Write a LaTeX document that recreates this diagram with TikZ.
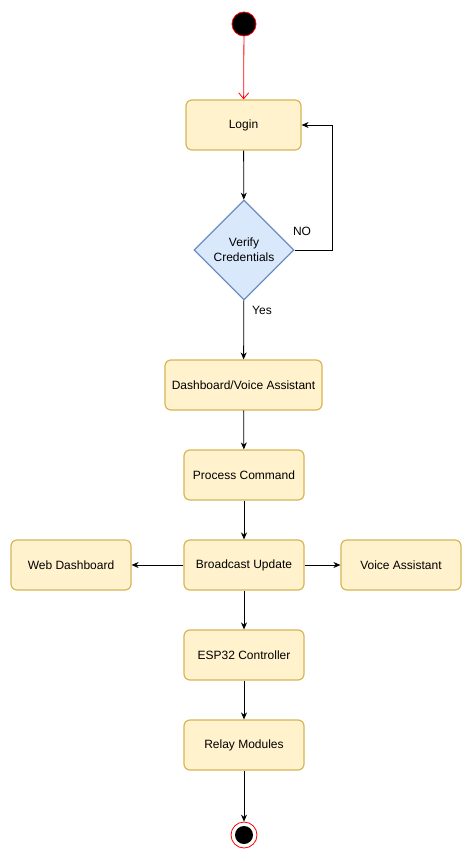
\documentclass[tikz,border=0pt]{standalone}
\usepackage{fontspec}
\setmainfont{Liberation Sans}
\usetikzlibrary{arrows.meta,shapes.geometric}

\definecolor{boxfill}{HTML}{FFF2CC}
\definecolor{boxline}{HTML}{D6B656}
\definecolor{decfill}{HTML}{DAE8FC}
\definecolor{decline}{HTML}{6C8EBF}

\tikzset{
    activity/.style = {draw = boxline, fill = boxfill, line width = 1.2pt, rounded corners = 6pt,
        minimum height = 50pt, inner sep = 0pt, font = \fontsize{12}{14}\selectfont},
    decision/.style = {diamond, draw = decline, fill = decfill, line width = 1.2pt, aspect = 1,
        minimum width = 100pt, minimum height = 100pt, inner sep = 0pt, align = center,
        font = \fontsize{12}{15}\selectfont},
    flow/.style = {draw, line width = 0.8pt, -{Stealth[length = 7pt, width = 6pt]}},
    lbl/.style = {font = \fontsize{12}{14}\selectfont}
}

\begin{document}
\begin{tikzpicture}[x = 1pt, y = -1pt]
            \useasboundingbox (0,0) rectangle (472,861);

            \node[circle, fill = black, draw = red, line width = 0.8pt, minimum size = 24pt, inner sep = 0pt] (start) at (244,24) {};

            \node[activity, minimum width = 115pt] (login) at (243.5,125) {Login};
            \node[decision] (verify) at (244,250) {Verify\\Credentials};
            \node[activity, minimum width = 157pt] (dash) at (243.5,385) {Dashboard/Voice Assistant};
            \node[activity, minimum width = 120pt] (process) at (244,475) {Process Command};
            \node[activity, minimum width = 120pt] (broadcast) at (244,565) {Broadcast Update};
            \node[activity, minimum width = 120pt] (web) at (71,565) {Web Dashboard};
            \node[activity, minimum width = 120pt] (voice) at (401,565) {Voice Assistant};
            \node[activity, minimum width = 120pt] (esp) at (244,655) {ESP32 Controller};
            \node[activity, minimum width = 120pt] (relay) at (244,745) {Relay Modules};

            \node[circle, draw = red, line width = 0.8pt, minimum size = 26pt, inner sep = 0pt] (stop) at (244,835) {};
            \fill (stop.center) circle (9pt);

            \draw[red, line width = 0.8pt, -{Straight Barb[length = 6pt, width = 10pt]}] (start) -- (login);
            \draw[flow] (login) -- (verify);
            \draw[flow] (verify.east) -- (332,250) -- (332,125) -- (login.east);
            \node[lbl] (no) at (302,231) {NO};
            \draw[flow] (verify) -- (dash);
            \node[lbl] (yes) at (262,310) {Yes};
            \draw[flow] (dash) -- (process);
            \draw[flow] (process) -- (broadcast);
            \draw[flow] (broadcast) -- (web);
            \draw[flow] (broadcast) -- (voice);
            \draw[flow] (broadcast) -- (esp);
            \draw[flow] (esp) -- (relay);
            \draw[flow] (relay) -- (stop);
        \end{tikzpicture}
\end{document}
